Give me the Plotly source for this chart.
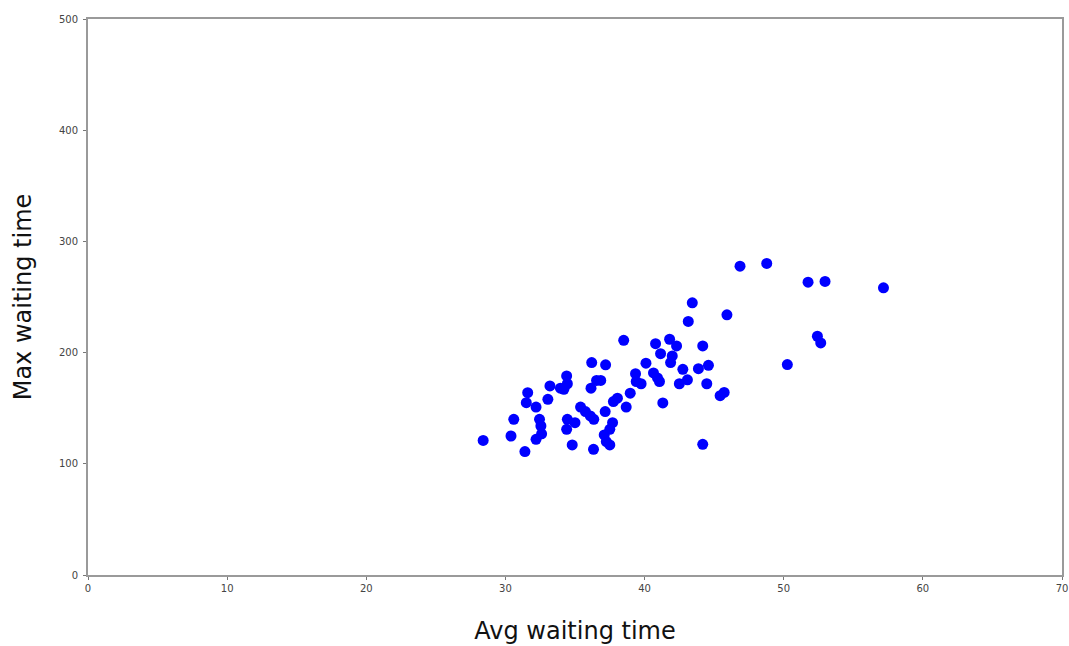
import plotly.graph_objects as go

avg_waiting = [
    28.4, 30.4, 30.6, 31.4, 31.6, 31.5, 32.2, 32.45, 32.55, 32.6,
    32.2, 33.05, 33.2, 33.95, 34.2, 34.4, 34.45, 34.45, 34.4, 35.0,
    34.8, 35.4, 35.75, 36.1, 36.35, 36.2, 36.15, 36.55, 36.85, 37.2,
    37.17, 36.33, 37.7, 37.5, 37.1, 37.25, 37.5, 38.5, 37.76, 38.05,
    38.68, 38.97, 39.35, 39.4, 39.75, 40.1, 40.79, 41.8, 42.3, 41.15,
    41.99, 41.87, 44.18, 42.75, 43.87, 44.59, 40.64, 40.93, 41.07, 41.31,
    42.5, 43.08, 44.47, 45.43, 45.72, 44.18, 43.43, 43.14, 45.92, 46.86,
    48.78, 51.75, 52.97, 57.17, 52.42, 52.66, 50.26,
]
max_waiting = [
    121, 125, 140, 111, 164, 155, 151, 140, 134, 127,
    122, 158, 170, 168, 167, 179, 172, 140, 131, 137,
    117, 151, 147, 143, 140, 191, 168, 175, 175, 189,
    147, 113, 137, 131, 126, 120, 117, 211, 156, 159,
    151, 163.5, 181, 174, 172, 190.5, 208, 212, 206, 199,
    197, 191, 206, 185, 185.5, 188.6, 181.7, 177.2, 174, 154.7,
    172, 175.5, 172, 161.3, 164.2, 117.5, 244.8, 228, 234, 277.7,
    280.2, 263.3, 264, 258.3, 214.7, 208.7, 189.2,
]

x_ticks = [0, 10, 20, 30, 40, 50, 60, 70]
y_ticks = [0, 100, 200, 300, 400, 500]

fig = go.Figure(
    go.Scatter(
        x=avg_waiting,
        y=max_waiting,
        mode="markers",
        marker=dict(color="#0000ff", size=11, line=dict(width=0)),
        showlegend=False,
    )
)

axis_common = dict(
    showgrid=False,
    zeroline=False,
    showline=True,
    mirror=True,
    linecolor="#9a9a9a",
    linewidth=2,
    ticks="outside",
    ticklen=3,
    tickwidth=1,
    tickcolor="#777777",
    tickfont=dict(family="DejaVu Sans", size=10, color="#444444"),
    automargin=False,
)

fig.update_layout(
    width=1069,
    height=646,
    margin=dict(l=88, r=7, t=19, b=71),
    plot_bgcolor="white",
    paper_bgcolor="white",
    xaxis=dict(
        range=[0, 70],
        tickvals=x_ticks,
        title=dict(text="Avg waiting time", font=dict(family="DejaVu Sans", size=24, color="#111111"), standoff=29),
        **axis_common,
    ),
    yaxis=dict(
        range=[0, 500],
        tickvals=y_ticks,
        ticklabelstandoff=3,
        title=dict(text="Max waiting time", font=dict(family="DejaVu Sans", size=24, color="#111111"), standoff=21),
        **axis_common,
    ),
)

fig.write_html(
    "out.html",
    config={"displayModeBar": False},
    post_script="document.body.style.margin='0';document.body.style.overflow='hidden';",
)
